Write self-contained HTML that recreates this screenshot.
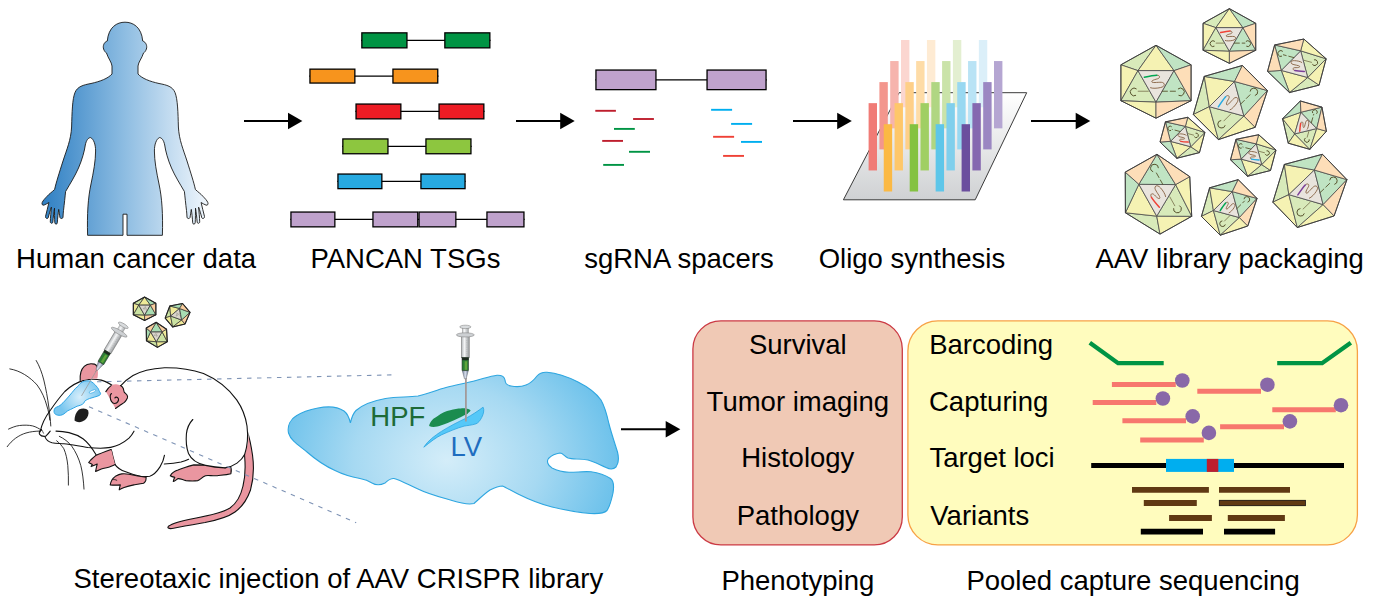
<!DOCTYPE html>
<html><head><meta charset="utf-8"><style>
html,body{margin:0;padding:0;background:#fff;}
svg{display:block;}
</style></head><body>
<svg width="1373" height="614" viewBox="0 0 1373 614">
<defs>
<linearGradient id="gHuman" x1="42" y1="0" x2="208" y2="0" gradientUnits="userSpaceOnUse">
  <stop offset="0" stop-color="#2E7FC3"/>
  <stop offset="0.5" stop-color="#8EBDE2"/>
  <stop offset="1" stop-color="#F0F6FC"/>
</linearGradient>
<linearGradient id="gPlate" x1="0" y1="92" x2="0" y2="200" gradientUnits="userSpaceOnUse">
  <stop offset="0" stop-color="#FFFFFF"/>
  <stop offset="1" stop-color="#CFD1D3"/>
</linearGradient>
<radialGradient id="gBrain" cx="447" cy="460" r="170" gradientUnits="userSpaceOnUse" gradientTransform="translate(447 460) scale(1 0.8) translate(-447 -460)">
  <stop offset="0" stop-color="#D4EDF9"/>
  <stop offset="0.55" stop-color="#A6D9F2"/>
  <stop offset="1" stop-color="#6EC2EB"/>
</radialGradient>
<linearGradient id="gBarrel" x1="-4.3" y1="0" x2="4.3" y2="0" gradientUnits="userSpaceOnUse">
  <stop offset="0" stop-color="#A9ADB0"/>
  <stop offset="0.4" stop-color="#F4F5F6"/>
  <stop offset="1" stop-color="#8F9396"/>
</linearGradient>
<linearGradient id="gHub" x1="-3" y1="0" x2="3" y2="0" gradientUnits="userSpaceOnUse">
  <stop offset="0" stop-color="#6F7FA0"/>
  <stop offset="0.5" stop-color="#D8DEEA"/>
  <stop offset="1" stop-color="#6F7FA0"/>
</linearGradient>
<radialGradient id="gPatch" cx="80" cy="397" r="22" gradientUnits="userSpaceOnUse">
  <stop offset="0" stop-color="#D6EEFB"/>
  <stop offset="1" stop-color="#78C6EF"/>
</radialGradient>
</defs>
<rect width="1373" height="614" fill="#fff"/>
<line x1="361.2" y1="40.35" x2="490.5" y2="40.35" stroke="#000" stroke-width="1.2"/><rect x="361.84999999999997" y="32.85" width="45.10000000000004" height="14.999999999999996" fill="#009444" stroke="#000" stroke-width="1.3"/><rect x="444.84999999999997" y="32.85" width="45.000000000000014" height="14.999999999999996" fill="#009444" stroke="#000" stroke-width="1.3"/><line x1="309.3" y1="76.1" x2="438.4" y2="76.1" stroke="#000" stroke-width="1.2"/><rect x="309.95" y="69.15" width="44.89999999999999" height="13.900000000000002" fill="#F7941D" stroke="#000" stroke-width="1.3"/><rect x="392.95" y="69.15" width="44.79999999999997" height="13.900000000000002" fill="#F7941D" stroke="#000" stroke-width="1.3"/><line x1="355.4" y1="111.45" x2="484.5" y2="111.45" stroke="#000" stroke-width="1.2"/><rect x="356.04999999999995" y="104.05000000000001" width="44.800000000000026" height="14.799999999999994" fill="#ED1C24" stroke="#000" stroke-width="1.3"/><rect x="439.04999999999995" y="104.05000000000001" width="44.800000000000026" height="14.799999999999994" fill="#ED1C24" stroke="#000" stroke-width="1.3"/><line x1="342.2" y1="146.35000000000002" x2="471.6" y2="146.35000000000002" stroke="#000" stroke-width="1.2"/><rect x="342.84999999999997" y="138.95000000000002" width="45.10000000000004" height="14.799999999999994" fill="#8DC63F" stroke="#000" stroke-width="1.3"/><rect x="425.95" y="138.95000000000002" width="45.000000000000014" height="14.799999999999994" fill="#8DC63F" stroke="#000" stroke-width="1.3"/><line x1="337.3" y1="181.35000000000002" x2="465.7" y2="181.35000000000002" stroke="#000" stroke-width="1.2"/><rect x="337.95" y="174.05" width="43.89999999999999" height="14.600000000000005" fill="#27AAE1" stroke="#000" stroke-width="1.3"/><rect x="420.95" y="174.05" width="44.09999999999998" height="14.600000000000005" fill="#27AAE1" stroke="#000" stroke-width="1.3"/><line x1="290.3" y1="219.45" x2="524.6" y2="219.45" stroke="#000" stroke-width="1.2"/><rect x="290.95" y="212.05" width="43.89999999999999" height="14.799999999999994" fill="#BFA2CC" stroke="#000" stroke-width="1.3"/><rect x="372.95" y="212.05" width="44.79999999999997" height="14.799999999999994" fill="#BFA2CC" stroke="#000" stroke-width="1.3"/><rect x="419.04999999999995" y="212.05" width="36.800000000000026" height="14.799999999999994" fill="#BFA2CC" stroke="#000" stroke-width="1.3"/><rect x="486.95" y="212.05" width="37.000000000000014" height="14.799999999999994" fill="#BFA2CC" stroke="#000" stroke-width="1.3"/><line x1="595.3" y1="79.85" x2="766.7" y2="79.85" stroke="#000" stroke-width="1.2"/><rect x="595.9499999999999" y="70.05000000000001" width="60.00000000000007" height="19.59999999999999" fill="#BFA2CC" stroke="#000" stroke-width="1.3"/><rect x="707.05" y="70.05000000000001" width="59.00000000000007" height="19.59999999999999" fill="#BFA2CC" stroke="#000" stroke-width="1.3"/><line x1="595.3" y1="110.8" x2="615.9" y2="110.8" stroke="#BE1E2D" stroke-width="1.9"/><line x1="633.1" y1="119" x2="653.9" y2="119" stroke="#BE1E2D" stroke-width="1.9"/><line x1="602.2" y1="140.9" x2="623" y2="140.9" stroke="#BE1E2D" stroke-width="1.9"/><line x1="614" y1="128.9" x2="634.8" y2="128.9" stroke="#009444" stroke-width="1.9"/><line x1="629" y1="151.8" x2="650" y2="151.8" stroke="#009444" stroke-width="1.9"/><line x1="603.2" y1="164.9" x2="624" y2="164.9" stroke="#009444" stroke-width="1.9"/><line x1="711.1" y1="109.8" x2="732.1" y2="109.8" stroke="#00AEEF" stroke-width="1.9"/><line x1="731.1" y1="123.9" x2="752.1" y2="123.9" stroke="#00AEEF" stroke-width="1.9"/><line x1="741" y1="141.9" x2="762" y2="141.9" stroke="#00AEEF" stroke-width="1.9"/><line x1="713.1" y1="136.8" x2="734.1" y2="136.8" stroke="#EF4136" stroke-width="1.9"/><line x1="723.1" y1="155.9" x2="744" y2="155.9" stroke="#EF4136" stroke-width="1.9"/><polygon points="899.1,92.7 1026.7,92.7 975.2,199.8 843.4,199.8" fill="url(#gPlate)" stroke="#3a3a3a" stroke-width="1"/><rect x="901.00" y="40.00" width="8.4" height="67.3" fill="#FBD6D0"/><rect x="926.95" y="40.00" width="8.4" height="67.3" fill="#FEEBD3"/><rect x="952.90" y="40.00" width="8.4" height="67.3" fill="#E3EFD1"/><rect x="978.85" y="40.00" width="8.4" height="67.3" fill="#DBEFF9"/><rect x="890.20" y="61.05" width="8.4" height="67.3" fill="#F6B4AD"/><rect x="916.15" y="61.05" width="8.4" height="67.3" fill="#FEDCA7"/><rect x="942.10" y="61.05" width="8.4" height="67.3" fill="#CAE3A9"/><rect x="968.05" y="61.05" width="8.4" height="67.3" fill="#B9E3F5"/><rect x="994.00" y="61.05" width="8.4" height="67.3" fill="#B5A6D2"/><rect x="879.40" y="82.10" width="8.4" height="67.3" fill="#F3968D"/><rect x="905.35" y="82.10" width="8.4" height="67.3" fill="#FECF88"/><rect x="931.30" y="82.10" width="8.4" height="67.3" fill="#B0D682"/><rect x="957.25" y="82.10" width="8.4" height="67.3" fill="#98D8F1"/><rect x="983.20" y="82.10" width="8.4" height="67.3" fill="#9B87C2"/><rect x="868.60" y="103.15" width="8.4" height="67.3" fill="#F07B76"/><rect x="894.55" y="103.15" width="8.4" height="67.3" fill="#FEC76A"/><rect x="920.50" y="103.15" width="8.4" height="67.3" fill="#A0CF63"/><rect x="946.45" y="103.15" width="8.4" height="67.3" fill="#80CFEC"/><rect x="972.40" y="103.15" width="8.4" height="67.3" fill="#8568B0"/><rect x="883.75" y="124.20" width="8.4" height="67.3" fill="#FBB944"/><rect x="909.70" y="124.20" width="8.4" height="67.3" fill="#84C241"/><rect x="935.65" y="124.20" width="8.4" height="67.3" fill="#5EC6E9"/><rect x="961.60" y="124.20" width="8.4" height="67.3" fill="#6B4E9E"/><line x1="244" y1="121" x2="289" y2="121" stroke="#000" stroke-width="2"/><polygon points="288,112.7 302.4,121 288,129.3" fill="#000"/><line x1="516" y1="121" x2="561.2" y2="121" stroke="#000" stroke-width="2"/><polygon points="560.2,112.7 574.7,121 560.2,129.3" fill="#000"/><line x1="793" y1="121" x2="838.2" y2="121" stroke="#000" stroke-width="2"/><polygon points="837.2,112.7 851.8,121 837.2,129.3" fill="#000"/><line x1="1031" y1="121" x2="1076.7" y2="121" stroke="#000" stroke-width="2"/><polygon points="1075.7,112.7 1090.3,121 1075.7,129.3" fill="#000"/><line x1="621" y1="429.3" x2="666.7" y2="429.3" stroke="#000" stroke-width="2"/><polygon points="665.7,421.0 680.3,429.3 665.7,437.6" fill="#000"/><text transform="translate(16.1,267.7) scale(1,1.0)" x="0" y="0" text-anchor="start" fill="#000" style="font-family:'Liberation Sans',sans-serif;font-size:27.5px">Human cancer data</text><text transform="translate(310.4,267.7) scale(1,1.0)" x="0" y="0" text-anchor="start" fill="#000" style="font-family:'Liberation Sans',sans-serif;font-size:27.5px">PANCAN TSGs</text><text transform="translate(584.2,267.7) scale(1,1.0)" x="0" y="0" text-anchor="start" fill="#000" style="font-family:'Liberation Sans',sans-serif;font-size:27.5px">sgRNA spacers</text><text transform="translate(818.7,267.7) scale(1,1.0)" x="0" y="0" text-anchor="start" fill="#000" style="font-family:'Liberation Sans',sans-serif;font-size:27.5px">Oligo synthesis</text><text transform="translate(1095.4,267.7) scale(1,1.0)" x="0" y="0" text-anchor="start" fill="#000" style="font-family:'Liberation Sans',sans-serif;font-size:27.5px">AAV library packaging</text><text transform="translate(73.4,588.0) scale(1,1.0)" x="0" y="0" text-anchor="start" fill="#000" style="font-family:'Liberation Sans',sans-serif;font-size:27.5px">Stereotaxic injection of AAV CRISPR library</text><text transform="translate(721.4,589.9) scale(1,1.0)" x="0" y="0" text-anchor="start" fill="#000" style="font-family:'Liberation Sans',sans-serif;font-size:27.5px">Phenotyping</text><text transform="translate(966.4,589.9) scale(1,1.0)" x="0" y="0" text-anchor="start" fill="#000" style="font-family:'Liberation Sans',sans-serif;font-size:27.5px">Pooled capture sequencing</text><rect x="692.9" y="320.9" width="209.4" height="224" rx="28" ry="28" fill="#F0C9B5" stroke="#CB3A44" stroke-width="1.3"/><rect x="907.9" y="320.9" width="449.5" height="224" rx="30" ry="30" fill="#FFFCBE" stroke="#F7A145" stroke-width="1.3"/><text transform="translate(797.8,353.9) scale(1,1.0)" x="0" y="0" text-anchor="middle" fill="#000" style="font-family:'Liberation Sans',sans-serif;font-size:27.5px">Survival</text><text transform="translate(797.8,410.6) scale(1,1.0)" x="0" y="0" text-anchor="middle" fill="#000" style="font-family:'Liberation Sans',sans-serif;font-size:27.5px">Tumor imaging</text><text transform="translate(797.8,467.3) scale(1,1.0)" x="0" y="0" text-anchor="middle" fill="#000" style="font-family:'Liberation Sans',sans-serif;font-size:27.5px">Histology</text><text transform="translate(797.8,525.0) scale(1,1.0)" x="0" y="0" text-anchor="middle" fill="#000" style="font-family:'Liberation Sans',sans-serif;font-size:27.5px">Pathology</text><text transform="translate(929.2,353.9) scale(1,1.0)" x="0" y="0" text-anchor="start" fill="#000" style="font-family:'Liberation Sans',sans-serif;font-size:27.5px">Barcoding</text><text transform="translate(929.0,410.6) scale(1,1.0)" x="0" y="0" text-anchor="start" fill="#000" style="font-family:'Liberation Sans',sans-serif;font-size:27.5px">Capturing</text><text transform="translate(929.4,467.3) scale(1,1.0)" x="0" y="0" text-anchor="start" fill="#000" style="font-family:'Liberation Sans',sans-serif;font-size:27.5px">Target loci</text><text transform="translate(930.3,525.0) scale(1,1.0)" x="0" y="0" text-anchor="start" fill="#000" style="font-family:'Liberation Sans',sans-serif;font-size:27.5px">Variants</text><polyline points="1089.8,342.7 1118.1,363.2 1163.7,363.2" fill="none" stroke="#009444" stroke-width="4.3"/><polyline points="1277.2,363.2 1322.1,363.2 1350.8,342.7" fill="none" stroke="#009444" stroke-width="4.3"/><line x1="1111.9" y1="384.6" x2="1175.8" y2="384.6" stroke="#F7776E" stroke-width="5"/><line x1="1092.7" y1="402.6" x2="1156.3" y2="402.6" stroke="#F7776E" stroke-width="5"/><line x1="1122.4" y1="420.7" x2="1186" y2="420.7" stroke="#F7776E" stroke-width="5"/><line x1="1140.2" y1="439.9" x2="1203.8" y2="439.9" stroke="#F7776E" stroke-width="5"/><line x1="1197.3" y1="391.3" x2="1261" y2="391.3" stroke="#F7776E" stroke-width="5"/><line x1="1272.3" y1="409.7" x2="1335.8" y2="409.7" stroke="#F7776E" stroke-width="5"/><line x1="1220.1" y1="426.7" x2="1284" y2="426.7" stroke="#F7776E" stroke-width="5"/><circle cx="1182.3" cy="380.5" r="7.3" fill="#8968A8"/><circle cx="1162.9" cy="398.5" r="7.3" fill="#8968A8"/><circle cx="1192.7" cy="416.4" r="7.3" fill="#8968A8"/><circle cx="1208.9" cy="432.9" r="7.3" fill="#8968A8"/><circle cx="1267.4" cy="384.7" r="7.3" fill="#8968A8"/><circle cx="1341" cy="405.2" r="7.3" fill="#8968A8"/><circle cx="1289.9" cy="421.4" r="7.3" fill="#8968A8"/><line x1="1091.2" y1="465.6" x2="1344" y2="465.6" stroke="#000" stroke-width="5"/><rect x="1166" y="458.9" width="68" height="13" fill="#00AEEF"/><rect x="1206.8" y="458.9" width="11.5" height="13" fill="#BE1E2D"/><line x1="1132" y1="489.9" x2="1208.9" y2="489.9" stroke="#603913" stroke-width="5.8"/><line x1="1219" y1="489.9" x2="1290" y2="489.9" stroke="#603913" stroke-width="5.8"/><line x1="1143.8" y1="503" x2="1196.8" y2="503" stroke="#603913" stroke-width="5.8"/><line x1="1219" y1="503" x2="1305.7" y2="503" stroke="#603913" stroke-width="5.8"/><line x1="1169.1" y1="518" x2="1211.9" y2="518" stroke="#603913" stroke-width="5.8"/><line x1="1227.8" y1="518" x2="1284.9" y2="518" stroke="#603913" stroke-width="5.8"/><line x1="1140.8" y1="531.7" x2="1203" y2="531.7" stroke="#000" stroke-width="5.8"/><line x1="1224" y1="531.7" x2="1275.1" y2="531.7" stroke="#000" stroke-width="5.8"/><rect x="1219.3" y="500.3" width="86.1" height="5.4" fill="none" stroke="#231F20" stroke-width="0.8"/><path d="M 125.00 22.20 C 117.00 22.20 108.50 27.00 107.30 41.00 C 104.00 42.00 102.60 46.00 103.60 49.00 C 104.30 51.00 105.50 52.50 106.50 53.00 C 108.20 58.50 111.60 62.00 112.00 66.00 L 112.00 74.00 C 108.00 78.50 100.00 81.50 91.00 83.50 C 83.00 85.00 77.50 86.50 75.00 92.50 C 72.30 99.00 72.00 113.00 71.60 127.00 C 71.00 140.00 66.50 150.00 63.00 161.00 C 59.50 172.00 56.00 183.00 54.60 189.50 C 52.00 192.00 49.00 194.00 47.20 196.20 C 45.00 198.50 43.00 200.50 42.20 202.50 C 41.50 204.30 42.50 205.60 44.00 205.10 C 45.50 204.60 47.50 203.30 48.90 202.50 C 48.00 207.00 46.50 212.00 45.50 216.50 C 45.20 218.20 47.50 219.30 48.20 217.80 C 49.20 214.00 50.30 210.00 51.40 207.20 C 51.00 212.00 50.40 217.50 50.30 221.80 C 50.30 223.60 52.60 223.80 52.80 222.20 C 53.30 217.50 53.80 212.00 54.50 208.20 C 54.50 213.00 54.50 218.50 54.80 222.80 C 55.00 224.60 57.30 224.50 57.30 222.80 C 57.60 218.00 58.20 213.00 58.70 209.40 C 59.20 212.50 59.60 215.50 60.00 217.60 C 60.50 219.00 62.80 218.80 63.00 217.20 C 63.10 215.00 63.20 213.00 63.50 210.50 C 64.30 204.00 65.00 197.00 65.60 191.50 C 70.00 184.00 75.00 176.00 78.50 168.00 C 82.00 160.00 84.50 151.00 85.30 145.00 C 86.30 140.00 88.50 137.50 90.60 137.60 C 93.50 139.00 95.60 144.00 95.60 151.00 C 95.60 161.00 93.50 172.00 91.00 184.00 C 88.00 198.00 87.00 214.00 87.60 235.30 L 123.00 235.30 L 123.00 214.20 L 125.00 214.20 L 127.00 214.20 L 127.00 235.30 L 162.40 235.30 C 163.00 214.00 162.00 198.00 159.00 184.00 C 156.50 172.00 154.40 161.00 154.40 151.00 C 154.40 144.00 156.50 139.00 159.40 137.60 C 161.50 137.50 163.70 140.00 164.70 145.00 C 165.50 151.00 168.00 160.00 171.50 168.00 C 175.00 176.00 180.00 184.00 184.40 191.50 C 185.00 197.00 185.70 204.00 186.50 210.50 C 186.80 213.00 186.90 215.00 187.00 217.20 C 187.20 218.80 189.50 219.00 190.00 217.60 C 190.40 215.50 190.80 212.50 191.30 209.40 C 191.80 213.00 192.40 218.00 192.70 222.80 C 192.70 224.50 195.00 224.60 195.20 222.80 C 195.50 218.50 195.50 213.00 195.50 208.20 C 196.20 212.00 196.70 217.50 197.20 222.20 C 197.40 223.80 199.70 223.60 199.70 221.80 C 199.60 217.50 199.00 212.00 198.60 207.20 C 199.70 210.00 200.80 214.00 201.80 217.80 C 202.50 219.30 204.80 218.20 204.50 216.50 C 203.50 212.00 202.00 207.00 201.10 202.50 C 202.50 203.30 204.50 204.60 206.00 205.10 C 207.50 205.60 208.50 204.30 207.80 202.50 C 207.00 200.50 205.00 198.50 202.80 196.20 C 201.00 194.00 198.00 192.00 195.40 189.50 C 194.00 183.00 190.50 172.00 187.00 161.00 C 183.50 150.00 179.00 140.00 178.40 127.00 C 178.00 113.00 177.70 99.00 175.00 92.50 C 172.50 86.50 167.00 85.00 159.00 83.50 C 150.00 81.50 142.00 78.50 138.00 74.00 L 138.00 66.00 C 138.40 62.00 141.80 58.50 143.50 53.00 C 144.50 52.50 145.70 51.00 146.40 49.00 C 147.40 46.00 146.00 42.00 142.70 41.00 C 141.50 27.00 133.00 22.20 125.00 22.20 Z" fill="url(#gHuman)" stroke="#1a1a1a" stroke-width="0.9" stroke-linejoin="round"/><g transform="translate(1229.4,36) rotate(0) scale(0.2735)"><polygon points="0,-100 -96.3,-46.5 -49.5,-30.5" fill="#D8EABA" stroke="#4a4a4a" stroke-width="0.8" stroke-linejoin="round" vector-effect="non-scaling-stroke"/><polygon points="0,-100 -49.5,-30.5 49.5,-30.5" fill="#F5F2B3" stroke="#4a4a4a" stroke-width="0.8" stroke-linejoin="round" vector-effect="non-scaling-stroke"/><polygon points="0,-100 49.5,-30.5 96.3,-46.5" fill="#C0E4C3" stroke="#4a4a4a" stroke-width="0.8" stroke-linejoin="round" vector-effect="non-scaling-stroke"/><polygon points="-96.3,-46.5 -49.5,-30.5 -96.3,52" fill="#F5F2B3" stroke="#4a4a4a" stroke-width="0.8" stroke-linejoin="round" vector-effect="non-scaling-stroke"/><polygon points="-49.5,-30.5 0,56 -96.3,52" fill="#D8EABA" stroke="#4a4a4a" stroke-width="0.8" stroke-linejoin="round" vector-effect="non-scaling-stroke"/><polygon points="-49.5,-30.5 49.5,-30.5 0,56" fill="#E9E4DD" stroke="#4a4a4a" stroke-width="0.8" stroke-linejoin="round" vector-effect="non-scaling-stroke"/><polygon points="49.5,-30.5 96.3,52 0,56" fill="#C0E4C3" stroke="#4a4a4a" stroke-width="0.8" stroke-linejoin="round" vector-effect="non-scaling-stroke"/><polygon points="49.5,-30.5 96.3,-46.5 96.3,52" fill="#FDDEB8" stroke="#4a4a4a" stroke-width="0.8" stroke-linejoin="round" vector-effect="non-scaling-stroke"/><polygon points="-96.3,52 0,56 0,100" fill="#F5F2B3" stroke="#4a4a4a" stroke-width="0.8" stroke-linejoin="round" vector-effect="non-scaling-stroke"/><polygon points="0,56 96.3,52 0,100" fill="#FDDEB8" stroke="#4a4a4a" stroke-width="0.8" stroke-linejoin="round" vector-effect="non-scaling-stroke"/><path d="M 2,-18 C 12,-18 12,-10 4,-8 C -4,-6 -14,-3 -11,1 C -8,4 10,0 18,2 C 26,5 24,14 12,16 C 4,18 -10,19 -16,16" fill="none" stroke="#85603F" stroke-width="0.9" vector-effect="non-scaling-stroke"/><path d="M -53.25,19.96 A 10.5,10.5 0 1 0 -54.75,37.1" fill="none" stroke="#57522C" stroke-width="1" vector-effect="non-scaling-stroke"/><path d="M 60.25,19.96 A 10.5,10.5 0 1 1 61.75,37.1" fill="none" stroke="#57522C" stroke-width="1" vector-effect="non-scaling-stroke"/><path d="M -50,26 L -20,26" fill="none" stroke="#8A8760" stroke-width="1" vector-effect="non-scaling-stroke"/><path d="M 16,26 L 58,26" fill="none" stroke="#57522C" stroke-width="0.9" stroke-dasharray="6 2" vector-effect="non-scaling-stroke"/><path d="M -32,-12.5 C -20,-15 -8,-17.5 2,-18" fill="none" stroke="#EF4136" stroke-width="1.5" stroke-linecap="round" vector-effect="non-scaling-stroke"/><polygon points="0,-100 96.3,-46.5 96.3,52 0,100 -96.3,52 -96.3,-46.5" fill="none" stroke="#3a3a3a" stroke-width="0.9" stroke-linejoin="round" vector-effect="non-scaling-stroke"/></g><g transform="translate(1296.65,65.8) rotate(-165) scale(0.27699999999999997)"><polygon points="0,-100 -96.3,-46.5 -49.5,-30.5" fill="#D8EABA" stroke="#4a4a4a" stroke-width="0.8" stroke-linejoin="round" vector-effect="non-scaling-stroke"/><polygon points="0,-100 -49.5,-30.5 49.5,-30.5" fill="#F5F2B3" stroke="#4a4a4a" stroke-width="0.8" stroke-linejoin="round" vector-effect="non-scaling-stroke"/><polygon points="0,-100 49.5,-30.5 96.3,-46.5" fill="#C0E4C3" stroke="#4a4a4a" stroke-width="0.8" stroke-linejoin="round" vector-effect="non-scaling-stroke"/><polygon points="-96.3,-46.5 -49.5,-30.5 -96.3,52" fill="#F5F2B3" stroke="#4a4a4a" stroke-width="0.8" stroke-linejoin="round" vector-effect="non-scaling-stroke"/><polygon points="-49.5,-30.5 0,56 -96.3,52" fill="#D8EABA" stroke="#4a4a4a" stroke-width="0.8" stroke-linejoin="round" vector-effect="non-scaling-stroke"/><polygon points="-49.5,-30.5 49.5,-30.5 0,56" fill="#E9E4DD" stroke="#4a4a4a" stroke-width="0.8" stroke-linejoin="round" vector-effect="non-scaling-stroke"/><polygon points="49.5,-30.5 96.3,52 0,56" fill="#C0E4C3" stroke="#4a4a4a" stroke-width="0.8" stroke-linejoin="round" vector-effect="non-scaling-stroke"/><polygon points="49.5,-30.5 96.3,-46.5 96.3,52" fill="#FDDEB8" stroke="#4a4a4a" stroke-width="0.8" stroke-linejoin="round" vector-effect="non-scaling-stroke"/><polygon points="-96.3,52 0,56 0,100" fill="#F5F2B3" stroke="#4a4a4a" stroke-width="0.8" stroke-linejoin="round" vector-effect="non-scaling-stroke"/><polygon points="0,56 96.3,52 0,100" fill="#FDDEB8" stroke="#4a4a4a" stroke-width="0.8" stroke-linejoin="round" vector-effect="non-scaling-stroke"/><path d="M 2,-18 C 12,-18 12,-10 4,-8 C -4,-6 -14,-3 -11,1 C -8,4 10,0 18,2 C 26,5 24,14 12,16 C 4,18 -10,19 -16,16" fill="none" stroke="#85603F" stroke-width="0.9" vector-effect="non-scaling-stroke"/><path d="M -53.25,19.96 A 10.5,10.5 0 1 0 -54.75,37.1" fill="none" stroke="#57522C" stroke-width="1" vector-effect="non-scaling-stroke"/><path d="M 60.25,19.96 A 10.5,10.5 0 1 1 61.75,37.1" fill="none" stroke="#57522C" stroke-width="1" vector-effect="non-scaling-stroke"/><path d="M -50,26 L -20,26" fill="none" stroke="#8A8760" stroke-width="1" vector-effect="non-scaling-stroke"/><path d="M 16,26 L 58,26" fill="none" stroke="#57522C" stroke-width="0.9" stroke-dasharray="6 2" vector-effect="non-scaling-stroke"/><path d="M -32,-12.5 C -20,-15 -8,-17.5 2,-18" fill="none" stroke="#7B3F98" stroke-width="1.5" stroke-linecap="round" vector-effect="non-scaling-stroke"/><polygon points="0,-100 96.3,-46.5 96.3,52 0,100 -96.3,52 -96.3,-46.5" fill="none" stroke="#3a3a3a" stroke-width="0.9" stroke-linejoin="round" vector-effect="non-scaling-stroke"/></g><g transform="translate(1156,81.75) rotate(0) scale(0.36450000000000005)"><polygon points="0,-100 -96.3,-46.5 -49.5,-30.5" fill="#D8EABA" stroke="#4a4a4a" stroke-width="0.8" stroke-linejoin="round" vector-effect="non-scaling-stroke"/><polygon points="0,-100 -49.5,-30.5 49.5,-30.5" fill="#F5F2B3" stroke="#4a4a4a" stroke-width="0.8" stroke-linejoin="round" vector-effect="non-scaling-stroke"/><polygon points="0,-100 49.5,-30.5 96.3,-46.5" fill="#C0E4C3" stroke="#4a4a4a" stroke-width="0.8" stroke-linejoin="round" vector-effect="non-scaling-stroke"/><polygon points="-96.3,-46.5 -49.5,-30.5 -96.3,52" fill="#F5F2B3" stroke="#4a4a4a" stroke-width="0.8" stroke-linejoin="round" vector-effect="non-scaling-stroke"/><polygon points="-49.5,-30.5 0,56 -96.3,52" fill="#D8EABA" stroke="#4a4a4a" stroke-width="0.8" stroke-linejoin="round" vector-effect="non-scaling-stroke"/><polygon points="-49.5,-30.5 49.5,-30.5 0,56" fill="#E9E4DD" stroke="#4a4a4a" stroke-width="0.8" stroke-linejoin="round" vector-effect="non-scaling-stroke"/><polygon points="49.5,-30.5 96.3,52 0,56" fill="#C0E4C3" stroke="#4a4a4a" stroke-width="0.8" stroke-linejoin="round" vector-effect="non-scaling-stroke"/><polygon points="49.5,-30.5 96.3,-46.5 96.3,52" fill="#FDDEB8" stroke="#4a4a4a" stroke-width="0.8" stroke-linejoin="round" vector-effect="non-scaling-stroke"/><polygon points="-96.3,52 0,56 0,100" fill="#F5F2B3" stroke="#4a4a4a" stroke-width="0.8" stroke-linejoin="round" vector-effect="non-scaling-stroke"/><polygon points="0,56 96.3,52 0,100" fill="#FDDEB8" stroke="#4a4a4a" stroke-width="0.8" stroke-linejoin="round" vector-effect="non-scaling-stroke"/><path d="M 2,-18 C 12,-18 12,-10 4,-8 C -4,-6 -14,-3 -11,1 C -8,4 10,0 18,2 C 26,5 24,14 12,16 C 4,18 -10,19 -16,16" fill="none" stroke="#85603F" stroke-width="0.9" vector-effect="non-scaling-stroke"/><path d="M -53.25,19.96 A 10.5,10.5 0 1 0 -54.75,37.1" fill="none" stroke="#57522C" stroke-width="1" vector-effect="non-scaling-stroke"/><path d="M 60.25,19.96 A 10.5,10.5 0 1 1 61.75,37.1" fill="none" stroke="#57522C" stroke-width="1" vector-effect="non-scaling-stroke"/><path d="M -50,26 L -20,26" fill="none" stroke="#8A8760" stroke-width="1" vector-effect="non-scaling-stroke"/><path d="M 16,26 L 58,26" fill="none" stroke="#57522C" stroke-width="0.9" stroke-dasharray="6 2" vector-effect="non-scaling-stroke"/><path d="M -32,-12.5 C -20,-15 -8,-17.5 2,-18" fill="none" stroke="#00A651" stroke-width="1.5" stroke-linecap="round" vector-effect="non-scaling-stroke"/><polygon points="0,-100 96.3,-46.5 96.3,52 0,100 -96.3,52 -96.3,-46.5" fill="none" stroke="#3a3a3a" stroke-width="0.9" stroke-linejoin="round" vector-effect="non-scaling-stroke"/></g><g transform="translate(1229.7,101.85) rotate(-45) scale(0.36)"><polygon points="0,-100 -96.3,-46.5 -49.5,-30.5" fill="#D8EABA" stroke="#4a4a4a" stroke-width="0.8" stroke-linejoin="round" vector-effect="non-scaling-stroke"/><polygon points="0,-100 -49.5,-30.5 49.5,-30.5" fill="#F5F2B3" stroke="#4a4a4a" stroke-width="0.8" stroke-linejoin="round" vector-effect="non-scaling-stroke"/><polygon points="0,-100 49.5,-30.5 96.3,-46.5" fill="#C0E4C3" stroke="#4a4a4a" stroke-width="0.8" stroke-linejoin="round" vector-effect="non-scaling-stroke"/><polygon points="-96.3,-46.5 -49.5,-30.5 -96.3,52" fill="#F5F2B3" stroke="#4a4a4a" stroke-width="0.8" stroke-linejoin="round" vector-effect="non-scaling-stroke"/><polygon points="-49.5,-30.5 0,56 -96.3,52" fill="#D8EABA" stroke="#4a4a4a" stroke-width="0.8" stroke-linejoin="round" vector-effect="non-scaling-stroke"/><polygon points="-49.5,-30.5 49.5,-30.5 0,56" fill="#E9E4DD" stroke="#4a4a4a" stroke-width="0.8" stroke-linejoin="round" vector-effect="non-scaling-stroke"/><polygon points="49.5,-30.5 96.3,52 0,56" fill="#C0E4C3" stroke="#4a4a4a" stroke-width="0.8" stroke-linejoin="round" vector-effect="non-scaling-stroke"/><polygon points="49.5,-30.5 96.3,-46.5 96.3,52" fill="#FDDEB8" stroke="#4a4a4a" stroke-width="0.8" stroke-linejoin="round" vector-effect="non-scaling-stroke"/><polygon points="-96.3,52 0,56 0,100" fill="#F5F2B3" stroke="#4a4a4a" stroke-width="0.8" stroke-linejoin="round" vector-effect="non-scaling-stroke"/><polygon points="0,56 96.3,52 0,100" fill="#FDDEB8" stroke="#4a4a4a" stroke-width="0.8" stroke-linejoin="round" vector-effect="non-scaling-stroke"/><path d="M 2,-18 C 12,-18 12,-10 4,-8 C -4,-6 -14,-3 -11,1 C -8,4 10,0 18,2 C 26,5 24,14 12,16 C 4,18 -10,19 -16,16" fill="none" stroke="#85603F" stroke-width="0.9" vector-effect="non-scaling-stroke"/><path d="M -53.25,19.96 A 10.5,10.5 0 1 0 -54.75,37.1" fill="none" stroke="#57522C" stroke-width="1" vector-effect="non-scaling-stroke"/><path d="M 60.25,19.96 A 10.5,10.5 0 1 1 61.75,37.1" fill="none" stroke="#57522C" stroke-width="1" vector-effect="non-scaling-stroke"/><path d="M -50,26 L -20,26" fill="none" stroke="#8A8760" stroke-width="1" vector-effect="non-scaling-stroke"/><path d="M 16,26 L 58,26" fill="none" stroke="#57522C" stroke-width="0.9" stroke-dasharray="6 2" vector-effect="non-scaling-stroke"/><path d="M -32,-12.5 C -20,-15 -8,-17.5 2,-18" fill="none" stroke="#27AAE1" stroke-width="1.5" stroke-linecap="round" vector-effect="non-scaling-stroke"/><polygon points="0,-100 96.3,-46.5 96.3,52 0,100 -96.3,52 -96.3,-46.5" fill="none" stroke="#3a3a3a" stroke-width="0.9" stroke-linejoin="round" vector-effect="non-scaling-stroke"/></g><g transform="translate(1304.5,125) rotate(-74) scale(0.228)"><polygon points="0,-100 -96.3,-46.5 -49.5,-30.5" fill="#D8EABA" stroke="#4a4a4a" stroke-width="0.8" stroke-linejoin="round" vector-effect="non-scaling-stroke"/><polygon points="0,-100 -49.5,-30.5 49.5,-30.5" fill="#F5F2B3" stroke="#4a4a4a" stroke-width="0.8" stroke-linejoin="round" vector-effect="non-scaling-stroke"/><polygon points="0,-100 49.5,-30.5 96.3,-46.5" fill="#C0E4C3" stroke="#4a4a4a" stroke-width="0.8" stroke-linejoin="round" vector-effect="non-scaling-stroke"/><polygon points="-96.3,-46.5 -49.5,-30.5 -96.3,52" fill="#F5F2B3" stroke="#4a4a4a" stroke-width="0.8" stroke-linejoin="round" vector-effect="non-scaling-stroke"/><polygon points="-49.5,-30.5 0,56 -96.3,52" fill="#D8EABA" stroke="#4a4a4a" stroke-width="0.8" stroke-linejoin="round" vector-effect="non-scaling-stroke"/><polygon points="-49.5,-30.5 49.5,-30.5 0,56" fill="#E9E4DD" stroke="#4a4a4a" stroke-width="0.8" stroke-linejoin="round" vector-effect="non-scaling-stroke"/><polygon points="49.5,-30.5 96.3,52 0,56" fill="#C0E4C3" stroke="#4a4a4a" stroke-width="0.8" stroke-linejoin="round" vector-effect="non-scaling-stroke"/><polygon points="49.5,-30.5 96.3,-46.5 96.3,52" fill="#FDDEB8" stroke="#4a4a4a" stroke-width="0.8" stroke-linejoin="round" vector-effect="non-scaling-stroke"/><polygon points="-96.3,52 0,56 0,100" fill="#F5F2B3" stroke="#4a4a4a" stroke-width="0.8" stroke-linejoin="round" vector-effect="non-scaling-stroke"/><polygon points="0,56 96.3,52 0,100" fill="#FDDEB8" stroke="#4a4a4a" stroke-width="0.8" stroke-linejoin="round" vector-effect="non-scaling-stroke"/><path d="M 2,-18 C 12,-18 12,-10 4,-8 C -4,-6 -14,-3 -11,1 C -8,4 10,0 18,2 C 26,5 24,14 12,16 C 4,18 -10,19 -16,16" fill="none" stroke="#85603F" stroke-width="0.9" vector-effect="non-scaling-stroke"/><path d="M -53.25,19.96 A 10.5,10.5 0 1 0 -54.75,37.1" fill="none" stroke="#57522C" stroke-width="1" vector-effect="non-scaling-stroke"/><path d="M 60.25,19.96 A 10.5,10.5 0 1 1 61.75,37.1" fill="none" stroke="#57522C" stroke-width="1" vector-effect="non-scaling-stroke"/><path d="M -50,26 L -20,26" fill="none" stroke="#8A8760" stroke-width="1" vector-effect="non-scaling-stroke"/><path d="M 16,26 L 58,26" fill="none" stroke="#57522C" stroke-width="0.9" stroke-dasharray="6 2" vector-effect="non-scaling-stroke"/><path d="M -32,-12.5 C -20,-15 -8,-17.5 2,-18" fill="none" stroke="#EF4136" stroke-width="1.5" stroke-linecap="round" vector-effect="non-scaling-stroke"/><polygon points="0,-100 96.3,-46.5 96.3,52 0,100 -96.3,52 -96.3,-46.5" fill="none" stroke="#3a3a3a" stroke-width="0.9" stroke-linejoin="round" vector-effect="non-scaling-stroke"/></g><g transform="translate(1182.3,137.8) rotate(-165) scale(0.212)"><polygon points="0,-100 -96.3,-46.5 -49.5,-30.5" fill="#D8EABA" stroke="#4a4a4a" stroke-width="0.8" stroke-linejoin="round" vector-effect="non-scaling-stroke"/><polygon points="0,-100 -49.5,-30.5 49.5,-30.5" fill="#F5F2B3" stroke="#4a4a4a" stroke-width="0.8" stroke-linejoin="round" vector-effect="non-scaling-stroke"/><polygon points="0,-100 49.5,-30.5 96.3,-46.5" fill="#C0E4C3" stroke="#4a4a4a" stroke-width="0.8" stroke-linejoin="round" vector-effect="non-scaling-stroke"/><polygon points="-96.3,-46.5 -49.5,-30.5 -96.3,52" fill="#F5F2B3" stroke="#4a4a4a" stroke-width="0.8" stroke-linejoin="round" vector-effect="non-scaling-stroke"/><polygon points="-49.5,-30.5 0,56 -96.3,52" fill="#D8EABA" stroke="#4a4a4a" stroke-width="0.8" stroke-linejoin="round" vector-effect="non-scaling-stroke"/><polygon points="-49.5,-30.5 49.5,-30.5 0,56" fill="#E9E4DD" stroke="#4a4a4a" stroke-width="0.8" stroke-linejoin="round" vector-effect="non-scaling-stroke"/><polygon points="49.5,-30.5 96.3,52 0,56" fill="#C0E4C3" stroke="#4a4a4a" stroke-width="0.8" stroke-linejoin="round" vector-effect="non-scaling-stroke"/><polygon points="49.5,-30.5 96.3,-46.5 96.3,52" fill="#FDDEB8" stroke="#4a4a4a" stroke-width="0.8" stroke-linejoin="round" vector-effect="non-scaling-stroke"/><polygon points="-96.3,52 0,56 0,100" fill="#F5F2B3" stroke="#4a4a4a" stroke-width="0.8" stroke-linejoin="round" vector-effect="non-scaling-stroke"/><polygon points="0,56 96.3,52 0,100" fill="#FDDEB8" stroke="#4a4a4a" stroke-width="0.8" stroke-linejoin="round" vector-effect="non-scaling-stroke"/><path d="M 2,-18 C 12,-18 12,-10 4,-8 C -4,-6 -14,-3 -11,1 C -8,4 10,0 18,2 C 26,5 24,14 12,16 C 4,18 -10,19 -16,16" fill="none" stroke="#85603F" stroke-width="0.9" vector-effect="non-scaling-stroke"/><path d="M -53.25,19.96 A 10.5,10.5 0 1 0 -54.75,37.1" fill="none" stroke="#57522C" stroke-width="1" vector-effect="non-scaling-stroke"/><path d="M 60.25,19.96 A 10.5,10.5 0 1 1 61.75,37.1" fill="none" stroke="#57522C" stroke-width="1" vector-effect="non-scaling-stroke"/><path d="M -50,26 L -20,26" fill="none" stroke="#8A8760" stroke-width="1" vector-effect="non-scaling-stroke"/><path d="M 16,26 L 58,26" fill="none" stroke="#57522C" stroke-width="0.9" stroke-dasharray="6 2" vector-effect="non-scaling-stroke"/><path d="M -32,-12.5 C -20,-15 -8,-17.5 2,-18" fill="none" stroke="#EF4136" stroke-width="1.5" stroke-linecap="round" vector-effect="non-scaling-stroke"/><polygon points="0,-100 96.3,-46.5 96.3,52 0,100 -96.3,52 -96.3,-46.5" fill="none" stroke="#3a3a3a" stroke-width="0.9" stroke-linejoin="round" vector-effect="non-scaling-stroke"/></g><g transform="translate(1253.1,155.5) rotate(-165) scale(0.215)"><polygon points="0,-100 -96.3,-46.5 -49.5,-30.5" fill="#D8EABA" stroke="#4a4a4a" stroke-width="0.8" stroke-linejoin="round" vector-effect="non-scaling-stroke"/><polygon points="0,-100 -49.5,-30.5 49.5,-30.5" fill="#F5F2B3" stroke="#4a4a4a" stroke-width="0.8" stroke-linejoin="round" vector-effect="non-scaling-stroke"/><polygon points="0,-100 49.5,-30.5 96.3,-46.5" fill="#C0E4C3" stroke="#4a4a4a" stroke-width="0.8" stroke-linejoin="round" vector-effect="non-scaling-stroke"/><polygon points="-96.3,-46.5 -49.5,-30.5 -96.3,52" fill="#F5F2B3" stroke="#4a4a4a" stroke-width="0.8" stroke-linejoin="round" vector-effect="non-scaling-stroke"/><polygon points="-49.5,-30.5 0,56 -96.3,52" fill="#D8EABA" stroke="#4a4a4a" stroke-width="0.8" stroke-linejoin="round" vector-effect="non-scaling-stroke"/><polygon points="-49.5,-30.5 49.5,-30.5 0,56" fill="#E9E4DD" stroke="#4a4a4a" stroke-width="0.8" stroke-linejoin="round" vector-effect="non-scaling-stroke"/><polygon points="49.5,-30.5 96.3,52 0,56" fill="#C0E4C3" stroke="#4a4a4a" stroke-width="0.8" stroke-linejoin="round" vector-effect="non-scaling-stroke"/><polygon points="49.5,-30.5 96.3,-46.5 96.3,52" fill="#FDDEB8" stroke="#4a4a4a" stroke-width="0.8" stroke-linejoin="round" vector-effect="non-scaling-stroke"/><polygon points="-96.3,52 0,56 0,100" fill="#F5F2B3" stroke="#4a4a4a" stroke-width="0.8" stroke-linejoin="round" vector-effect="non-scaling-stroke"/><polygon points="0,56 96.3,52 0,100" fill="#FDDEB8" stroke="#4a4a4a" stroke-width="0.8" stroke-linejoin="round" vector-effect="non-scaling-stroke"/><path d="M 2,-18 C 12,-18 12,-10 4,-8 C -4,-6 -14,-3 -11,1 C -8,4 10,0 18,2 C 26,5 24,14 12,16 C 4,18 -10,19 -16,16" fill="none" stroke="#85603F" stroke-width="0.9" vector-effect="non-scaling-stroke"/><path d="M -53.25,19.96 A 10.5,10.5 0 1 0 -54.75,37.1" fill="none" stroke="#57522C" stroke-width="1" vector-effect="non-scaling-stroke"/><path d="M 60.25,19.96 A 10.5,10.5 0 1 1 61.75,37.1" fill="none" stroke="#57522C" stroke-width="1" vector-effect="non-scaling-stroke"/><path d="M -50,26 L -20,26" fill="none" stroke="#8A8760" stroke-width="1" vector-effect="non-scaling-stroke"/><path d="M 16,26 L 58,26" fill="none" stroke="#57522C" stroke-width="0.9" stroke-dasharray="6 2" vector-effect="non-scaling-stroke"/><path d="M -32,-12.5 C -20,-15 -8,-17.5 2,-18" fill="none" stroke="#27AAE1" stroke-width="1.5" stroke-linecap="round" vector-effect="non-scaling-stroke"/><polygon points="0,-100 96.3,-46.5 96.3,52 0,100 -96.3,52 -96.3,-46.5" fill="none" stroke="#3a3a3a" stroke-width="0.9" stroke-linejoin="round" vector-effect="non-scaling-stroke"/></g><g transform="translate(1157.6,194.7) rotate(-119.3) scale(0.369)"><polygon points="0,-100 -96.3,-46.5 -49.5,-30.5" fill="#D8EABA" stroke="#4a4a4a" stroke-width="0.8" stroke-linejoin="round" vector-effect="non-scaling-stroke"/><polygon points="0,-100 -49.5,-30.5 49.5,-30.5" fill="#F5F2B3" stroke="#4a4a4a" stroke-width="0.8" stroke-linejoin="round" vector-effect="non-scaling-stroke"/><polygon points="0,-100 49.5,-30.5 96.3,-46.5" fill="#C0E4C3" stroke="#4a4a4a" stroke-width="0.8" stroke-linejoin="round" vector-effect="non-scaling-stroke"/><polygon points="-96.3,-46.5 -49.5,-30.5 -96.3,52" fill="#F5F2B3" stroke="#4a4a4a" stroke-width="0.8" stroke-linejoin="round" vector-effect="non-scaling-stroke"/><polygon points="-49.5,-30.5 0,56 -96.3,52" fill="#D8EABA" stroke="#4a4a4a" stroke-width="0.8" stroke-linejoin="round" vector-effect="non-scaling-stroke"/><polygon points="-49.5,-30.5 49.5,-30.5 0,56" fill="#E9E4DD" stroke="#4a4a4a" stroke-width="0.8" stroke-linejoin="round" vector-effect="non-scaling-stroke"/><polygon points="49.5,-30.5 96.3,52 0,56" fill="#C0E4C3" stroke="#4a4a4a" stroke-width="0.8" stroke-linejoin="round" vector-effect="non-scaling-stroke"/><polygon points="49.5,-30.5 96.3,-46.5 96.3,52" fill="#FDDEB8" stroke="#4a4a4a" stroke-width="0.8" stroke-linejoin="round" vector-effect="non-scaling-stroke"/><polygon points="-96.3,52 0,56 0,100" fill="#F5F2B3" stroke="#4a4a4a" stroke-width="0.8" stroke-linejoin="round" vector-effect="non-scaling-stroke"/><polygon points="0,56 96.3,52 0,100" fill="#FDDEB8" stroke="#4a4a4a" stroke-width="0.8" stroke-linejoin="round" vector-effect="non-scaling-stroke"/><path d="M 2,-18 C 12,-18 12,-10 4,-8 C -4,-6 -14,-3 -11,1 C -8,4 10,0 18,2 C 26,5 24,14 12,16 C 4,18 -10,19 -16,16" fill="none" stroke="#85603F" stroke-width="0.9" vector-effect="non-scaling-stroke"/><path d="M -53.25,19.96 A 10.5,10.5 0 1 0 -54.75,37.1" fill="none" stroke="#57522C" stroke-width="1" vector-effect="non-scaling-stroke"/><path d="M 60.25,19.96 A 10.5,10.5 0 1 1 61.75,37.1" fill="none" stroke="#57522C" stroke-width="1" vector-effect="non-scaling-stroke"/><path d="M -50,26 L -20,26" fill="none" stroke="#8A8760" stroke-width="1" vector-effect="non-scaling-stroke"/><path d="M 16,26 L 58,26" fill="none" stroke="#57522C" stroke-width="0.9" stroke-dasharray="6 2" vector-effect="non-scaling-stroke"/><path d="M -32,-12.5 C -20,-15 -8,-17.5 2,-18" fill="none" stroke="#EF4136" stroke-width="1.5" stroke-linecap="round" vector-effect="non-scaling-stroke"/><polygon points="0,-100 96.3,-46.5 96.3,52 0,100 -96.3,52 -96.3,-46.5" fill="none" stroke="#3a3a3a" stroke-width="0.9" stroke-linejoin="round" vector-effect="non-scaling-stroke"/></g><g transform="translate(1228.7,206.9) rotate(-45) scale(0.27)"><polygon points="0,-100 -96.3,-46.5 -49.5,-30.5" fill="#D8EABA" stroke="#4a4a4a" stroke-width="0.8" stroke-linejoin="round" vector-effect="non-scaling-stroke"/><polygon points="0,-100 -49.5,-30.5 49.5,-30.5" fill="#F5F2B3" stroke="#4a4a4a" stroke-width="0.8" stroke-linejoin="round" vector-effect="non-scaling-stroke"/><polygon points="0,-100 49.5,-30.5 96.3,-46.5" fill="#C0E4C3" stroke="#4a4a4a" stroke-width="0.8" stroke-linejoin="round" vector-effect="non-scaling-stroke"/><polygon points="-96.3,-46.5 -49.5,-30.5 -96.3,52" fill="#F5F2B3" stroke="#4a4a4a" stroke-width="0.8" stroke-linejoin="round" vector-effect="non-scaling-stroke"/><polygon points="-49.5,-30.5 0,56 -96.3,52" fill="#D8EABA" stroke="#4a4a4a" stroke-width="0.8" stroke-linejoin="round" vector-effect="non-scaling-stroke"/><polygon points="-49.5,-30.5 49.5,-30.5 0,56" fill="#E9E4DD" stroke="#4a4a4a" stroke-width="0.8" stroke-linejoin="round" vector-effect="non-scaling-stroke"/><polygon points="49.5,-30.5 96.3,52 0,56" fill="#C0E4C3" stroke="#4a4a4a" stroke-width="0.8" stroke-linejoin="round" vector-effect="non-scaling-stroke"/><polygon points="49.5,-30.5 96.3,-46.5 96.3,52" fill="#FDDEB8" stroke="#4a4a4a" stroke-width="0.8" stroke-linejoin="round" vector-effect="non-scaling-stroke"/><polygon points="-96.3,52 0,56 0,100" fill="#F5F2B3" stroke="#4a4a4a" stroke-width="0.8" stroke-linejoin="round" vector-effect="non-scaling-stroke"/><polygon points="0,56 96.3,52 0,100" fill="#FDDEB8" stroke="#4a4a4a" stroke-width="0.8" stroke-linejoin="round" vector-effect="non-scaling-stroke"/><path d="M 2,-18 C 12,-18 12,-10 4,-8 C -4,-6 -14,-3 -11,1 C -8,4 10,0 18,2 C 26,5 24,14 12,16 C 4,18 -10,19 -16,16" fill="none" stroke="#85603F" stroke-width="0.9" vector-effect="non-scaling-stroke"/><path d="M -53.25,19.96 A 10.5,10.5 0 1 0 -54.75,37.1" fill="none" stroke="#57522C" stroke-width="1" vector-effect="non-scaling-stroke"/><path d="M 60.25,19.96 A 10.5,10.5 0 1 1 61.75,37.1" fill="none" stroke="#57522C" stroke-width="1" vector-effect="non-scaling-stroke"/><path d="M -50,26 L -20,26" fill="none" stroke="#8A8760" stroke-width="1" vector-effect="non-scaling-stroke"/><path d="M 16,26 L 58,26" fill="none" stroke="#57522C" stroke-width="0.9" stroke-dasharray="6 2" vector-effect="non-scaling-stroke"/><path d="M -32,-12.5 C -20,-15 -8,-17.5 2,-18" fill="none" stroke="#00A651" stroke-width="1.5" stroke-linecap="round" vector-effect="non-scaling-stroke"/><polygon points="0,-100 96.3,-46.5 96.3,52 0,100 -96.3,52 -96.3,-46.5" fill="none" stroke="#3a3a3a" stroke-width="0.9" stroke-linejoin="round" vector-effect="non-scaling-stroke"/></g><g transform="translate(1309.2,190.2) rotate(-44) scale(0.358)"><polygon points="0,-100 -96.3,-46.5 -49.5,-30.5" fill="#D8EABA" stroke="#4a4a4a" stroke-width="0.8" stroke-linejoin="round" vector-effect="non-scaling-stroke"/><polygon points="0,-100 -49.5,-30.5 49.5,-30.5" fill="#F5F2B3" stroke="#4a4a4a" stroke-width="0.8" stroke-linejoin="round" vector-effect="non-scaling-stroke"/><polygon points="0,-100 49.5,-30.5 96.3,-46.5" fill="#C0E4C3" stroke="#4a4a4a" stroke-width="0.8" stroke-linejoin="round" vector-effect="non-scaling-stroke"/><polygon points="-96.3,-46.5 -49.5,-30.5 -96.3,52" fill="#F5F2B3" stroke="#4a4a4a" stroke-width="0.8" stroke-linejoin="round" vector-effect="non-scaling-stroke"/><polygon points="-49.5,-30.5 0,56 -96.3,52" fill="#D8EABA" stroke="#4a4a4a" stroke-width="0.8" stroke-linejoin="round" vector-effect="non-scaling-stroke"/><polygon points="-49.5,-30.5 49.5,-30.5 0,56" fill="#E9E4DD" stroke="#4a4a4a" stroke-width="0.8" stroke-linejoin="round" vector-effect="non-scaling-stroke"/><polygon points="49.5,-30.5 96.3,52 0,56" fill="#C0E4C3" stroke="#4a4a4a" stroke-width="0.8" stroke-linejoin="round" vector-effect="non-scaling-stroke"/><polygon points="49.5,-30.5 96.3,-46.5 96.3,52" fill="#FDDEB8" stroke="#4a4a4a" stroke-width="0.8" stroke-linejoin="round" vector-effect="non-scaling-stroke"/><polygon points="-96.3,52 0,56 0,100" fill="#F5F2B3" stroke="#4a4a4a" stroke-width="0.8" stroke-linejoin="round" vector-effect="non-scaling-stroke"/><polygon points="0,56 96.3,52 0,100" fill="#FDDEB8" stroke="#4a4a4a" stroke-width="0.8" stroke-linejoin="round" vector-effect="non-scaling-stroke"/><path d="M 2,-18 C 12,-18 12,-10 4,-8 C -4,-6 -14,-3 -11,1 C -8,4 10,0 18,2 C 26,5 24,14 12,16 C 4,18 -10,19 -16,16" fill="none" stroke="#85603F" stroke-width="0.9" vector-effect="non-scaling-stroke"/><path d="M -53.25,19.96 A 10.5,10.5 0 1 0 -54.75,37.1" fill="none" stroke="#57522C" stroke-width="1" vector-effect="non-scaling-stroke"/><path d="M 60.25,19.96 A 10.5,10.5 0 1 1 61.75,37.1" fill="none" stroke="#57522C" stroke-width="1" vector-effect="non-scaling-stroke"/><path d="M -50,26 L -20,26" fill="none" stroke="#8A8760" stroke-width="1" vector-effect="non-scaling-stroke"/><path d="M 16,26 L 58,26" fill="none" stroke="#57522C" stroke-width="0.9" stroke-dasharray="6 2" vector-effect="non-scaling-stroke"/><path d="M -32,-12.5 C -20,-15 -8,-17.5 2,-18" fill="none" stroke="#7B3F98" stroke-width="1.5" stroke-linecap="round" vector-effect="non-scaling-stroke"/><polygon points="0,-100 96.3,-46.5 96.3,52 0,100 -96.3,52 -96.3,-46.5" fill="none" stroke="#3a3a3a" stroke-width="0.9" stroke-linejoin="round" vector-effect="non-scaling-stroke"/></g><g transform="translate(144.6,308.7) rotate(0) scale(0.11699999999999999)"><polygon points="0,-100 -96.3,-46.5 -49.5,-30.5" fill="#CBE3A2" stroke="#333" stroke-width="0.75" stroke-linejoin="round" vector-effect="non-scaling-stroke"/><polygon points="0,-100 -49.5,-30.5 49.5,-30.5" fill="#EFEA98" stroke="#333" stroke-width="0.75" stroke-linejoin="round" vector-effect="non-scaling-stroke"/><polygon points="0,-100 49.5,-30.5 96.3,-46.5" fill="#A8DCB2" stroke="#333" stroke-width="0.75" stroke-linejoin="round" vector-effect="non-scaling-stroke"/><polygon points="-96.3,-46.5 -49.5,-30.5 -96.3,52" fill="#EFEA98" stroke="#333" stroke-width="0.75" stroke-linejoin="round" vector-effect="non-scaling-stroke"/><polygon points="-49.5,-30.5 0,56 -96.3,52" fill="#CBE3A2" stroke="#333" stroke-width="0.75" stroke-linejoin="round" vector-effect="non-scaling-stroke"/><polygon points="-49.5,-30.5 49.5,-30.5 0,56" fill="#DAD5CC" stroke="#333" stroke-width="0.75" stroke-linejoin="round" vector-effect="non-scaling-stroke"/><polygon points="49.5,-30.5 96.3,52 0,56" fill="#A8DCB2" stroke="#333" stroke-width="0.75" stroke-linejoin="round" vector-effect="non-scaling-stroke"/><polygon points="49.5,-30.5 96.3,-46.5 96.3,52" fill="#F8CE9E" stroke="#333" stroke-width="0.75" stroke-linejoin="round" vector-effect="non-scaling-stroke"/><polygon points="-96.3,52 0,56 0,100" fill="#EFEA98" stroke="#333" stroke-width="0.75" stroke-linejoin="round" vector-effect="non-scaling-stroke"/><polygon points="0,56 96.3,52 0,100" fill="#F8CE9E" stroke="#333" stroke-width="0.75" stroke-linejoin="round" vector-effect="non-scaling-stroke"/><polygon points="0,-100 96.3,-46.5 96.3,52 0,100 -96.3,52 -96.3,-46.5" fill="none" stroke="#222" stroke-width="1.1" stroke-linejoin="round" vector-effect="non-scaling-stroke"/><path d="M 2,-18 C 12,-18 12,-10 4,-8 C -4,-6 -14,-3 -11,1 C -8,4 10,0 18,2 C 26,5 24,14 12,16" fill="none" stroke="#8a8a80" stroke-width="0.6" vector-effect="non-scaling-stroke"/></g><g transform="translate(177.4,315.0) rotate(-40) scale(0.11800000000000001)"><polygon points="0,-100 -96.3,-46.5 -49.5,-30.5" fill="#CBE3A2" stroke="#333" stroke-width="0.75" stroke-linejoin="round" vector-effect="non-scaling-stroke"/><polygon points="0,-100 -49.5,-30.5 49.5,-30.5" fill="#EFEA98" stroke="#333" stroke-width="0.75" stroke-linejoin="round" vector-effect="non-scaling-stroke"/><polygon points="0,-100 49.5,-30.5 96.3,-46.5" fill="#A8DCB2" stroke="#333" stroke-width="0.75" stroke-linejoin="round" vector-effect="non-scaling-stroke"/><polygon points="-96.3,-46.5 -49.5,-30.5 -96.3,52" fill="#EFEA98" stroke="#333" stroke-width="0.75" stroke-linejoin="round" vector-effect="non-scaling-stroke"/><polygon points="-49.5,-30.5 0,56 -96.3,52" fill="#CBE3A2" stroke="#333" stroke-width="0.75" stroke-linejoin="round" vector-effect="non-scaling-stroke"/><polygon points="-49.5,-30.5 49.5,-30.5 0,56" fill="#DAD5CC" stroke="#333" stroke-width="0.75" stroke-linejoin="round" vector-effect="non-scaling-stroke"/><polygon points="49.5,-30.5 96.3,52 0,56" fill="#A8DCB2" stroke="#333" stroke-width="0.75" stroke-linejoin="round" vector-effect="non-scaling-stroke"/><polygon points="49.5,-30.5 96.3,-46.5 96.3,52" fill="#F8CE9E" stroke="#333" stroke-width="0.75" stroke-linejoin="round" vector-effect="non-scaling-stroke"/><polygon points="-96.3,52 0,56 0,100" fill="#EFEA98" stroke="#333" stroke-width="0.75" stroke-linejoin="round" vector-effect="non-scaling-stroke"/><polygon points="0,56 96.3,52 0,100" fill="#F8CE9E" stroke="#333" stroke-width="0.75" stroke-linejoin="round" vector-effect="non-scaling-stroke"/><polygon points="0,-100 96.3,-46.5 96.3,52 0,100 -96.3,52 -96.3,-46.5" fill="none" stroke="#222" stroke-width="1.1" stroke-linejoin="round" vector-effect="non-scaling-stroke"/><path d="M 2,-18 C 12,-18 12,-10 4,-8 C -4,-6 -14,-3 -11,1 C -8,4 10,0 18,2 C 26,5 24,14 12,16" fill="none" stroke="#8a8a80" stroke-width="0.6" vector-effect="non-scaling-stroke"/></g><g transform="translate(156.5,335) rotate(-120) scale(0.11599999999999999)"><polygon points="0,-100 -96.3,-46.5 -49.5,-30.5" fill="#CBE3A2" stroke="#333" stroke-width="0.75" stroke-linejoin="round" vector-effect="non-scaling-stroke"/><polygon points="0,-100 -49.5,-30.5 49.5,-30.5" fill="#EFEA98" stroke="#333" stroke-width="0.75" stroke-linejoin="round" vector-effect="non-scaling-stroke"/><polygon points="0,-100 49.5,-30.5 96.3,-46.5" fill="#A8DCB2" stroke="#333" stroke-width="0.75" stroke-linejoin="round" vector-effect="non-scaling-stroke"/><polygon points="-96.3,-46.5 -49.5,-30.5 -96.3,52" fill="#EFEA98" stroke="#333" stroke-width="0.75" stroke-linejoin="round" vector-effect="non-scaling-stroke"/><polygon points="-49.5,-30.5 0,56 -96.3,52" fill="#CBE3A2" stroke="#333" stroke-width="0.75" stroke-linejoin="round" vector-effect="non-scaling-stroke"/><polygon points="-49.5,-30.5 49.5,-30.5 0,56" fill="#DAD5CC" stroke="#333" stroke-width="0.75" stroke-linejoin="round" vector-effect="non-scaling-stroke"/><polygon points="49.5,-30.5 96.3,52 0,56" fill="#A8DCB2" stroke="#333" stroke-width="0.75" stroke-linejoin="round" vector-effect="non-scaling-stroke"/><polygon points="49.5,-30.5 96.3,-46.5 96.3,52" fill="#F8CE9E" stroke="#333" stroke-width="0.75" stroke-linejoin="round" vector-effect="non-scaling-stroke"/><polygon points="-96.3,52 0,56 0,100" fill="#EFEA98" stroke="#333" stroke-width="0.75" stroke-linejoin="round" vector-effect="non-scaling-stroke"/><polygon points="0,56 96.3,52 0,100" fill="#F8CE9E" stroke="#333" stroke-width="0.75" stroke-linejoin="round" vector-effect="non-scaling-stroke"/><polygon points="0,-100 96.3,-46.5 96.3,52 0,100 -96.3,52 -96.3,-46.5" fill="none" stroke="#222" stroke-width="1.1" stroke-linejoin="round" vector-effect="non-scaling-stroke"/><path d="M 2,-18 C 12,-18 12,-10 4,-8 C -4,-6 -14,-3 -11,1 C -8,4 10,0 18,2 C 26,5 24,14 12,16" fill="none" stroke="#8a8a80" stroke-width="0.6" vector-effect="non-scaling-stroke"/></g><path d="M 288.5,433 C 287,425 291,419 296,416 C 302,412 310,409.5 318,408 C 328,406 338,407 344,411 C 348,414 349.5,419 350.4,423 C 351.5,418 352.5,414 356,410.5 C 362,405 372,401 385.5,398.5 C 398,396.5 408,397.5 418,396 C 428,394 436,390 446,387.5 C 456,385 466,383 476,380.5 C 484,378.5 490,376 497,375.2 C 502,375 504.5,377 505,380 C 505.3,383 506,385 511,386 C 516,387 521,387 526,385 C 531,383 534,380 537,376 C 539.5,373 542,372 547,372.3 C 556,373 566,376 578,382 C 588,387 596,393 601,400 C 605,407 607,415 609,424 C 611,432 615,444 617.5,452 C 619,458 619,463 616,467 C 613.5,469.5 610,469.5 606,467.5 C 600,465 594,461.5 588,460 C 580,458.5 572,459.5 568,458 C 564.5,456.5 563,453 560,453 C 556,453.5 551,456 548.5,458.5 C 546.5,461 547.5,465.5 552,468 C 557,470.5 563,472 569,472.3 C 576,472.5 584,471 591,471.8 C 598,472.8 605,475 610.5,478.5 C 614,481 614,487 613,493 C 611.5,500 610,506 607,510.5 C 604,513.5 598,514 590,513.5 C 578,512.5 565,510 552,507 C 540,504 528,499 518,494 C 512,491 506,487.5 502.5,486 C 498,486 494,488 490,490 C 484,494 478,500 474,503.5 C 468,505 460,503 452,500.5 C 440,497 428,494 418,489 C 408,484.5 400,480 394,478.5 C 390,478 387.5,481 385,483 C 381,485 376,485.5 372,483 C 369,481 366,479.5 360,478.5 C 352,477 344,475 335,470.5 C 325,466 315,459 307,452 C 299,445.5 291,441 288.5,433 Z" fill="url(#gBrain)" stroke="#2EA6E0" stroke-width="1.1"/><path d="M 423.8,447.2 C 428,440.5 435,435.5 441.4,431.4 C 450,426 458,422 466,418.2 C 472,415 478,411 483.1,407.2 C 484.5,410 483.5,414 481.8,417.3 C 480,421 478,423 476,423.8 C 472,425.2 467,425.5 464.2,426.1 C 457,428 449,431.5 441.4,434.9 C 436,437.5 431,441.5 423.8,447.2 Z" fill="#55C8F8" stroke="#2BA3E0" stroke-width="0.8"/><path d="M 429.1,426.1 C 430,421 434,418 437,416.5 C 442,413 446,411 450.2,410.3 C 454,409 458,408.4 460.7,408.4 C 465,408.2 468,408.3 470.6,410.3 C 470,412 468,413 467.7,413.8 C 463,416 459,418 454.6,420 C 450,422 445,424 441.4,425.3 C 437,426.8 433,427.8 429.1,426.1 Z" fill="#1B8C4F"/><line x1="465.9" y1="378" x2="465.9" y2="421.6" stroke="#A39A9A" stroke-width="1.8"/><text transform="translate(370.3,426.0) scale(1,1.0)" x="0" y="0" text-anchor="start" fill="#1D6B38" style="font-family:'Liberation Sans',sans-serif;font-size:27.5px">HPF</text><text transform="translate(450.4,455.6) scale(1,1.0)" x="0" y="0" text-anchor="start" fill="#1F6DBF" style="font-family:'Liberation Sans',sans-serif;font-size:27.5px">LV</text><path d="M 247.5,431.7 C 249.5,438 251,445 252.5,455 C 254,466 254,478 250.4,490.3 C 247,500 242,507 235,512 C 228,517 218,520 205,522.5 C 193,524.5 180,527 172,528.5 C 168.5,529 167,527.5 168.4,526.3 C 172,523.5 180,521 195,518.2 C 210,515.5 222,513 230,508 C 237,503 241,495 243,486 C 245.5,476 245.5,466 244.6,456 C 244,448 245,440 247.5,431.7 Z" fill="#EA96A0" stroke="#111" stroke-width="1.1" stroke-linejoin="round"/><path d="M 170.3,475.7 C 172,472.5 175,471 178,470 C 183,468 188,466.5 193.8,464.9 L 229.9,465.3 C 231.5,468 231.5,471.5 230.9,473.7 C 226,475 221,475.2 217.2,475.7 C 212,476 208,475 205.5,475.7 C 202,477 200,480 197.7,480.6 C 193,481.5 189,481 186,480.6 C 183,480 180.5,478.5 178.2,478.6 C 176.5,479.5 175,481 173.3,481.5 C 173.5,480 174,478.5 174.8,477.4 C 173,477 171.5,476.6 170.3,475.7 Z" fill="#EA96A0" stroke="#111" stroke-width="1.1" stroke-linejoin="round"/><path d="M 40,431.5 C 44,420 52,406 62.5,396.7 C 72,388 82,381.5 93,379.5 C 102,379 110,382 118,384.5 C 126,379 136,372 150,369 C 168,366 190,367 206,374.5 C 224,383 240,399 246.5,417.5 C 250,430 249,444 244.6,454.6 C 240,462 232,467.5 225,467.9 L 205.5,465.4 C 198,463.5 192,461 187.9,460.1 C 180,463 172,463.8 164.5,464 C 161,469 157,475 150,477 C 140,478 130,475 123,470 L 115,467 L 100,465 L 92,452 C 80,447 65,445 52,443 C 46,440 42,436 40,431.5 Z" fill="#fff"/><path d="M 40.1,431.9 C 41.5,425 46,416 50.5,410 C 55,403.5 59,398 64.8,391.5 C 70,386.5 76,382.5 84.2,380.1 C 90,379 96,379 101.3,380.1 C 105,381 108.5,383 112.1,385.2" fill="none" stroke="#111" stroke-width="1.1" stroke-linecap="round" stroke-linejoin="round"/><path d="M 120.6,385.8 C 124,382 128,378.5 133,375.5 C 140,371.5 152,368.5 164.5,367.7 C 178,367.5 192,369.5 203.5,373.6 C 215,378.5 228,388 236.7,399.9 C 242,407.5 245.5,416 247,426 C 248,434 247.5,446 244.6,454.6 C 241.5,461 234,466.5 225,467.9" fill="none" stroke="#111" stroke-width="1.1" stroke-linecap="round" stroke-linejoin="round"/><path d="M 192.8,419.5 C 189,423.5 187,428 186.4,434 C 185.8,441 186.5,448 188.5,453.5 C 191,459 197,463.5 205.5,465.4 C 212,466.8 219,467.6 225,467.9" fill="none" stroke="#111" stroke-width="1.1" stroke-linecap="round" stroke-linejoin="round"/><path d="M 164.3,464 C 170,463.8 176,463.2 181,462 C 184,461.2 186.5,460.3 188.6,459.3" fill="none" stroke="#111" stroke-width="1.1" stroke-linecap="round" stroke-linejoin="round"/><path d="M 111,449.5 C 112,451.5 112.5,453.5 112.7,455.6 C 113.5,458.7 114.3,461.6 115.1,464.6 C 117,467.5 121,470.3 125.7,471.8 C 130,473.6 135,475.4 140.4,476.3 C 143.5,476.7 146.5,476.7 149.8,476.2 C 154,475 157,471.5 160,466.9 C 162.5,463 163.8,459.5 164.5,455.2" fill="none" stroke="#111" stroke-width="1.1" stroke-linecap="round" stroke-linejoin="round"/><path d="M 45,436.9 C 46,439.5 48.5,441.8 52.1,442.8 C 56,443.5 60,443.4 64,443.8 C 72,444.5 80,446.5 88,447.5 C 95,448.2 103,448.8 110.7,447.4 C 118,446 124,442.5 129,438.2 C 131,436 132.5,434 134,431.2" fill="none" stroke="#111" stroke-width="1.1" stroke-linecap="round" stroke-linejoin="round"/><path d="M 56,431.1 C 61,431.3 65,431.8 69,432.6 C 74,433.8 79,436 83,438.8 C 88,442.5 92,448 96.4,455.2" fill="none" stroke="#111" stroke-width="1.1" stroke-linecap="round" stroke-linejoin="round"/><path d="M 41.5,429.5 C 39.5,430.5 38.7,432.8 39.7,434.4 C 40.8,436 43,436.6 45.6,436.3 C 47.5,434.5 49,432.8 50.2,431.1" fill="none" stroke="#111" stroke-width="1.1" stroke-linecap="round" stroke-linejoin="round"/><path d="M 41.6,429.6 C 42.3,430.8 43,432 43.5,433.2" fill="none" stroke="#111" stroke-width="0.7" stroke-linecap="round" stroke-linejoin="round"/><path d="M 95.6,455.6 C 100.5,453.3 106,451.3 111,449.5 C 112,451.5 112.5,453.5 112.7,455.6 C 113.5,458.7 114.3,461.6 115.1,464.6 C 113,465.5 111.2,466.3 109.4,467 C 106.7,467.7 104,468.3 101.3,469 C 99.4,469.8 97.5,470.6 95.6,471.5 C 96,469 96.5,466.5 97.2,464.1 C 95.2,465 93.2,465.8 91.1,466.6 C 91.4,465.9 91.9,465.2 92.3,464.5 C 91.1,463.8 89.9,463.2 88.7,462.5 C 89.3,461.6 90,460.8 90.7,460 C 92.2,458.5 93.8,457 95.6,455.6 Z" fill="#EA96A0" stroke="none"/><path d="M 115.1,464.6 C 113,465.5 111.2,466.3 109.4,467 C 106.7,467.7 104,468.3 101.3,469 C 99.4,469.8 97.5,470.6 95.6,471.5 C 96,469 96.5,466.5 97.2,464.1 C 95.2,465 93.2,465.8 91.1,466.6 C 91.4,465.9 91.9,465.2 92.3,464.5 C 91.1,463.8 89.9,463.2 88.7,462.5 C 89.3,461.6 90,460.8 90.7,460 C 92.2,458.5 93.8,457 95.6,455.6 C 100.5,453.3 106,451.3 111,449.5" fill="none" stroke="#111" stroke-width="1.1" stroke-linecap="round" stroke-linejoin="round"/><path d="M 110.2,484.9 C 110.5,483.2 111.1,481.5 111.9,480 C 113,478.3 114.4,477 115.9,475.9 C 117.8,474.9 119.7,474.2 121.7,473.9 C 124.2,473.6 126.6,473.8 129,474.3 C 134,475.5 140,476.6 146.1,477.1 C 146.2,478.3 146,479.6 145.7,480.8 C 145.2,481.8 144.5,482.6 143.6,483.3 C 140.4,484 137.2,484.4 133.9,484.9 C 130.6,485.6 127.3,486.4 124.1,487.4 C 122.4,488.1 120.8,488.9 119.2,489.8 C 119.4,488.2 119.8,486.5 120.4,484.9 C 117,485.2 113.6,485.2 110.2,484.9 Z" fill="#EA96A0" stroke="#111" stroke-width="1.1" stroke-linejoin="round"/><path d="M 112.8,479.6 C 114.2,479.4 115.6,479.6 116.8,480.3" fill="none" stroke="#111" stroke-width="0.8" stroke-linecap="round" stroke-linejoin="round"/><path d="M 80.2,380.6 C 79.8,375 81.5,369 84.2,366.4 C 86.5,364 90,363.2 94.4,364.1 C 96.5,365 97.6,368 97.9,372.1 C 98,375 97.7,377 97.3,378.6 C 92,378.8 86,379.3 80.2,380.6 Z" fill="#EA96A0" stroke="none"/><path d="M 80.2,380.6 C 79.8,375 81.5,369 84.2,366.4 C 86.5,364 90,363.2 94.4,364.1 C 95.5,364.6 96.5,365.5 97.2,366.6" fill="none" stroke="#111" stroke-width="1.1" stroke-linecap="round" stroke-linejoin="round"/><path d="M 105.8,391.6 C 107.5,389 109,387 111.1,385.6 C 112.8,384.6 114.5,384.2 116.1,384.3 C 118,384.4 119.5,384.8 120.5,385.5 C 122,386.5 122.9,387.5 123.3,388.5 C 123.7,389.8 123.8,391.3 124.4,392.4 C 125.3,393.5 126.5,394.2 127.1,395.2 C 127.6,396 127.7,397 127.4,397.9 C 126.5,399.8 125.6,401.2 124.4,402.4 C 122.7,403.6 121,404.6 119.4,405.7 C 118,406.6 116.7,407.5 115.5,408.5 C 112.3,402.9 109,397.2 105.8,391.6 Z" fill="#EA96A0" stroke="none"/><path d="M 105.8,391.6 C 107.5,389 109,387 111.1,385.6" fill="none" stroke="#111" stroke-width="1.1" stroke-linecap="round" stroke-linejoin="round"/><path d="M 120.5,385.5 C 122,386.5 122.9,387.5 123.3,388.5 C 123.7,389.8 123.8,391.3 124.4,392.4 C 125.3,393.5 126.5,394.2 127.1,395.2 C 127.6,396 127.7,397 127.4,397.9 C 126.5,399.8 125.6,401.2 124.4,402.4 C 122.7,403.6 121,404.6 119.4,405.7 C 118,406.6 116.7,407.5 115.5,408.5" fill="none" stroke="#111" stroke-width="1.1" stroke-linecap="round" stroke-linejoin="round"/><path d="M 111.4,393.5 C 110.4,394.5 110,395.5 110.2,396.8 C 110.3,398.8 110.6,400.3 111.4,401.4 C 112.3,402.8 113.5,403.5 114.6,403.5 C 116.2,403.4 117.3,402.6 117.9,401.6 C 118.6,400.5 118.7,399.3 118.3,398.4 C 117.8,397.4 116.9,397 116,397.1 C 115.4,397.2 115,397.6 114.9,398" fill="none" stroke="#111" stroke-width="1.1" stroke-linecap="round" stroke-linejoin="round"/><path d="M 54.00,411.70 C 53.87,410.60 54.30,408.92 55.10,408.00 C 55.90,407.08 57.75,406.82 58.80,406.20 C 59.85,405.58 60.42,405.17 61.40,404.30 C 62.38,403.43 63.55,402.22 64.70,401.00 C 65.85,399.78 67.08,398.40 68.30,397.00 C 69.52,395.60 70.77,394.07 72.00,392.60 C 73.23,391.13 74.72,389.23 75.70,388.20 C 76.68,387.17 77.30,387.02 77.90,386.40 C 78.50,385.78 78.57,385.23 79.30,384.50 C 80.03,383.77 81.07,382.60 82.30,382.00 C 83.53,381.40 85.37,381.03 86.70,380.90 C 88.03,380.77 89.20,380.83 90.30,381.20 C 91.40,381.57 92.32,382.30 93.30,383.10 C 94.28,383.90 95.35,385.03 96.20,386.00 C 97.05,386.97 97.92,388.10 98.40,388.90 C 98.88,389.70 98.73,390.00 99.10,390.80 C 99.47,391.60 100.60,392.92 100.60,393.70 C 100.60,394.48 100.08,394.95 99.10,395.50 C 98.12,396.05 96.28,396.50 94.70,397.00 C 93.12,397.50 91.18,397.88 89.60,398.50 C 88.02,399.12 86.18,399.92 85.20,400.70 C 84.22,401.48 84.43,402.47 83.70,403.20 C 82.97,403.93 81.90,404.60 80.80,405.10 C 79.70,405.60 78.32,405.72 77.10,406.20 C 75.88,406.68 74.60,407.45 73.50,408.00 C 72.40,408.55 71.48,409.02 70.50,409.50 C 69.52,409.98 68.70,410.17 67.60,410.90 C 66.50,411.63 65.12,413.17 63.90,413.90 C 62.68,414.63 61.63,415.18 60.30,415.30 C 58.97,415.42 56.95,415.20 55.90,414.60 C 54.85,414.00 54.13,412.80 54.00,411.70 Z" fill="url(#gPatch)" stroke="#2FA6E6" stroke-width="1"/><ellipse cx="92.5" cy="391.5" rx="3.6" ry="1.2" transform="rotate(-22 92.5 391.5)" fill="#fff" stroke="#2FA6E6" stroke-width="0.6"/><line x1="95.6" y1="372.1" x2="81.5" y2="395.9" stroke="#9A9A9A" stroke-width="0.8"/><path d="M 74.5,420.5 C 74.5,416.5 76,412 79,409.6 C 82,407.8 86.5,408 88.2,410.5 C 89.2,413.5 88,417.5 85,420 C 82,422.2 78,423.2 74.5,420.5 Z" fill="#1E1E1E"/><path d="M 9.8,368.9 C 20,370.5 30,377 37.1,385 C 42,391.5 45,399 46.9,406 C 48.5,411 49.5,416 49.8,420" fill="none" stroke="#111" stroke-width="0.85" stroke-linecap="round" stroke-linejoin="round"/><path d="M 36.2,360.5 C 39.5,366 42,373 43.8,380 C 46,389 47.6,398 48.8,407 C 49.8,414 50.4,420 50.8,426" fill="none" stroke="#111" stroke-width="0.85" stroke-linecap="round" stroke-linejoin="round"/><path d="M 8.5,429.1 C 12,427.5 15.5,426 19.5,425.5 C 24,425 28.5,425 32.6,425.9 C 36,426.8 39,428.5 41.7,430.4" fill="none" stroke="#111" stroke-width="0.85" stroke-linecap="round" stroke-linejoin="round"/><path d="M 7.2,446.7 C 9.5,443.5 12.5,440.5 15.6,438.2 C 19,435.8 22.5,434 26,433 C 30.5,431.7 35,431.2 39.1,431.1" fill="none" stroke="#111" stroke-width="0.85" stroke-linecap="round" stroke-linejoin="round"/><path d="M 56.7,440.8 C 59.5,443 62,446 63.8,448.7 C 66,453.5 67.2,459.5 67.8,465.6 C 68.4,472 68.5,478.5 68.4,485.1" fill="none" stroke="#111" stroke-width="0.85" stroke-linecap="round" stroke-linejoin="round"/><path d="M 59.3,436.3 C 64,438.5 68.5,442 71.7,446.1 C 75.5,451.5 78.7,458 80.8,465.6 C 82.6,472.5 83.5,481 84,489.1" fill="none" stroke="#111" stroke-width="0.85" stroke-linecap="round" stroke-linejoin="round"/><line x1="97" y1="381.8" x2="394.3" y2="374.8" stroke="#7E93B5" stroke-width="1.1" stroke-dasharray="4.5 5.5"/><line x1="89" y1="406.7" x2="356.2" y2="522.7" stroke="#7E93B5" stroke-width="1.1" stroke-dasharray="4.5 5.5"/><g transform="translate(465.3,326.3)"><polygon points="-3,44.4 3,44.4 0.9,52.5 -0.9,52.5" fill="url(#gHub)" stroke="#555" stroke-width="0.4"/><rect x="-3.9" y="8.5" width="7.8" height="23" fill="url(#gBarrel)" stroke="#666" stroke-width="0.5"/><rect x="-3.1" y="0.5" width="6.2" height="8" fill="url(#gBarrel)" stroke="#888" stroke-width="0.4"/><ellipse cx="0" cy="0.6" rx="5.6" ry="1.7" fill="#D9DCDE" stroke="#777" stroke-width="0.5"/><ellipse cx="0" cy="8.6" rx="9" ry="2.1" fill="#CDD0D3" stroke="#777" stroke-width="0.5"/><rect x="-3.3" y="31.3" width="6.6" height="13.1" fill="#2C7F36" stroke="#2a2a2a" stroke-width="0.5"/><rect x="-3.3" y="31.3" width="6.6" height="2.6" fill="#1C2A1E"/><rect x="-0.6" y="35" width="2.4" height="8.5" fill="#8DC63F" opacity="0.55"/><line x1="1.5" y1="14" x2="1.5" y2="30" stroke="#999" stroke-width="0.5" stroke-dasharray="0.6 1.6"/></g><g transform="translate(123.6,324.8) rotate(30.8)"><polygon points="-3,44.4 3,44.4 0.9,52.5 -0.9,52.5" fill="url(#gHub)" stroke="#555" stroke-width="0.4"/><rect x="-3.9" y="8.5" width="7.8" height="23" fill="url(#gBarrel)" stroke="#666" stroke-width="0.5"/><rect x="-3.1" y="0.5" width="6.2" height="8" fill="url(#gBarrel)" stroke="#888" stroke-width="0.4"/><ellipse cx="0" cy="0.6" rx="5.6" ry="1.7" fill="#D9DCDE" stroke="#777" stroke-width="0.5"/><ellipse cx="0" cy="8.6" rx="9" ry="2.1" fill="#CDD0D3" stroke="#777" stroke-width="0.5"/><rect x="-3.3" y="31.3" width="6.6" height="13.1" fill="#2C7F36" stroke="#2a2a2a" stroke-width="0.5"/><rect x="-3.3" y="31.3" width="6.6" height="2.6" fill="#1C2A1E"/><rect x="-0.6" y="35" width="2.4" height="8.5" fill="#8DC63F" opacity="0.55"/><line x1="1.5" y1="14" x2="1.5" y2="30" stroke="#999" stroke-width="0.5" stroke-dasharray="0.6 1.6"/><line x1="0" y1="52.5" x2="0" y2="55" stroke="#888" stroke-width="0.8"/></g>
</svg></body></html>
